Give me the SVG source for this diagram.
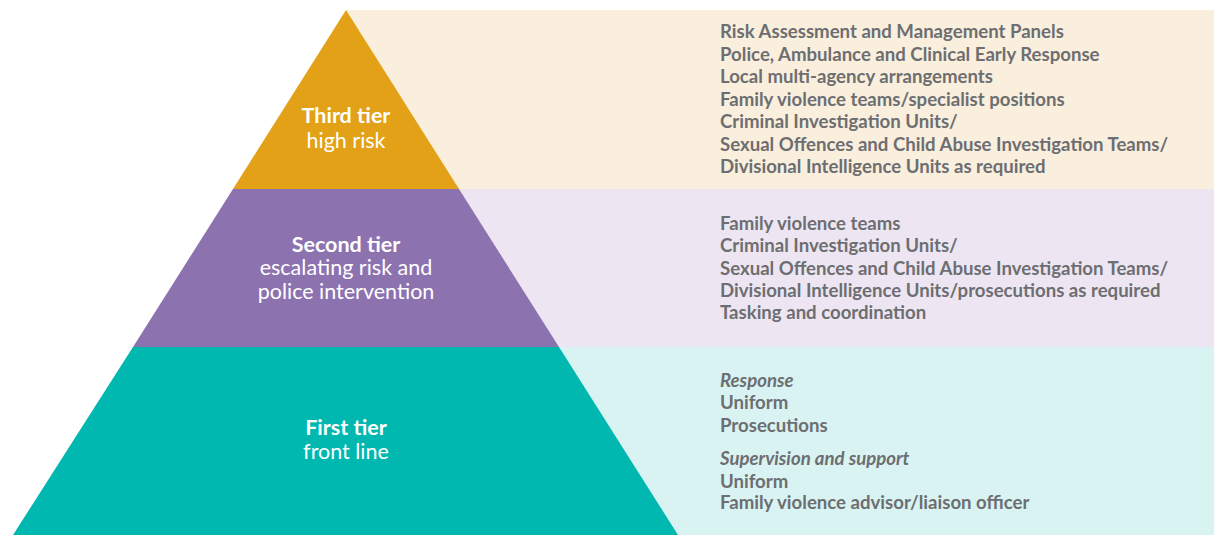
<svg xmlns="http://www.w3.org/2000/svg" width="1214" height="535" viewBox="0 0 1214 535">
<style>
.list{font-family:Lato,"Liberation Sans",sans-serif;font-weight:bold;font-size:18.6px;fill:#6d6e71}
.it{font-style:italic}
.title{font-family:Lato,"Liberation Sans",sans-serif;font-weight:bold;font-size:21.5px;fill:#ffffff;text-anchor:middle}
.sub{font-family:Lato,"Liberation Sans",sans-serif;font-weight:normal;font-size:21.5px;fill:#ffffff;text-anchor:middle}
</style>
<rect width="1214" height="535" fill="#ffffff"/>
<g id="bands">
<rect x="346" y="10" width="868" height="179" fill="#faefdd"/>
<rect x="346" y="189" width="868" height="158" fill="#ede6f2"/>
<rect x="346" y="347" width="868" height="188" fill="#d8f3f2"/>
</g>
<g id="tier3">
<polygon points="346,10 459,189 233,189" fill="#e3a117"/>
<text class="title" x="346" y="123">Third tier</text>
<text class="sub" x="346" y="148">high risk</text>
<text class="list" x="720"><tspan x="720" y="38">Risk Assessment and Management Panels</tspan><tspan x="720" y="60.5">Police, Ambulance and Clinical Early Response</tspan><tspan x="720" y="83">Local multi-agency arrangements</tspan><tspan x="720" y="105.5">Family violence teams/specialist positions</tspan><tspan x="720" y="128">Criminal Investigation Units/</tspan><tspan x="720" y="150.5">Sexual Offences and Child Abuse Investigation Teams/</tspan><tspan x="720" y="173">Divisional Intelligence Units as required</tspan></text>
</g>
<g id="tier2">
<polygon points="233,189 459,189 559,347 133,347" fill="#8d72b0"/>
<text class="title" x="346" y="251.5">Second tier</text>
<text class="sub" x="346" y="275">escalating risk and</text>
<text class="sub" x="346" y="299">police intervention</text>
<text class="list" x="720"><tspan x="720" y="230">Family violence teams</tspan><tspan x="720" y="252">Criminal Investigation Units/</tspan><tspan x="720" y="274.5">Sexual Offences and Child Abuse Investigation Teams/</tspan><tspan x="720" y="296.5">Divisional Intelligence Units/prosecutions as required</tspan><tspan x="720" y="319">Tasking and coordination</tspan></text>
</g>
<g id="tier1">
<polygon points="133,347 559,347 678,535 13,535" fill="#00b8b0"/>
<text class="title" x="346" y="435">First tier</text>
<text class="sub" x="346" y="459">front line</text>
<text class="list" x="720"><tspan class="it" x="720" y="387">Response</tspan><tspan x="720" y="409">Uniform</tspan><tspan x="720" y="431.5">Prosecutions</tspan><tspan class="it" x="720" y="465">Supervision and support</tspan><tspan x="720" y="487.5">Uniform</tspan><tspan x="720" y="509">Family violence advisor/liaison officer</tspan></text>
</g>
<g id="connectors"/>
</svg>
